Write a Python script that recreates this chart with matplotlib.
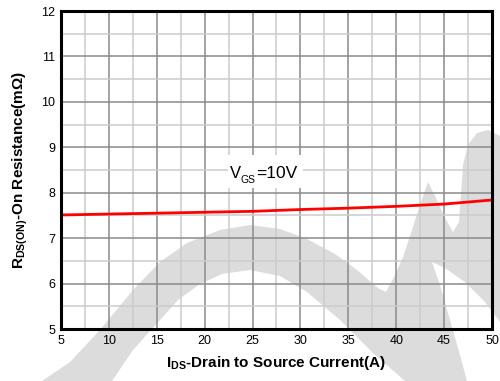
import matplotlib
matplotlib.use("Agg")
import matplotlib.pyplot as plt
import matplotlib.transforms as mtransforms
from matplotlib.patches import Polygon, Rectangle
from matplotlib.ticker import MultipleLocator

plt.rcParams['font.family'] = ['Liberation Sans', 'DejaVu Sans']
plt.rcParams['mathtext.fontset'] = 'custom'
plt.rcParams['mathtext.rm'] = 'Liberation Sans'
plt.rcParams['mathtext.bf'] = 'Liberation Sans:bold'
plt.rcParams['mathtext.it'] = 'Liberation Sans:italic'

# Drain current (A) and on-resistance (mOhm) at VGS = 10 V
ids = [5, 10, 15, 20, 25, 30, 35, 40, 45, 50]
rds_on = [7.51, 7.53, 7.55, 7.57, 7.59, 7.63, 7.66, 7.70, 7.75, 7.84]

x_ticks = [5, 10, 15, 20, 25, 30, 35, 40, 45, 50]
y_ticks = [5, 6, 7, 8, 9, 10, 11, 12]

W, H = 500, 381
fig = plt.figure(figsize=(W / 100, H / 100), dpi=100, facecolor='white')

# background logo, outlined in pixel units (origin top-left)
px = mtransforms.Affine2D().scale(1 / W, -1 / H).translate(0, 1) + fig.transFigure
logo_color = '#dcdcdc'
logo_outline = [
    (42, 381), (70, 362), (100, 330), (133, 290), (160, 262), (187, 243),
    (220, 230), (250, 225), (280, 229), (307, 239), (335, 254), (357, 270),
    (378, 288), (386, 292), (395, 275), (403, 257), (412, 230), (420, 205),
    (428, 182), (436, 198), (445, 218), (453, 232), (459, 222), (461, 195),
    (463, 165), (468, 145), (477, 133), (488, 130), (500, 136), (500, 322),
    (485, 302), (465, 282), (445, 268), (432, 262), (440, 285), (450, 320),
    (460, 355), (467, 381),
    (405, 381), (373, 353), (340, 320), (307, 292), (280, 276), (250, 270),
    (222, 274), (200, 284), (178, 300), (160, 320), (133, 350), (112, 381)]
fig.patches.append(Polygon(logo_outline, closed=True, transform=px,
                           facecolor=logo_color, edgecolor='none', zorder=0))

ax = fig.add_axes([61 / W, 1 - 329 / H, 431 / W, 318 / H])
ax.set_facecolor('none')
ax.set_zorder(1)

ax.set_xlim(5, 50)
ax.set_ylim(5, 12)
ax.set_xticks(x_ticks)
ax.set_yticks(y_ticks)
ax.xaxis.set_minor_locator(MultipleLocator(2.5))
ax.yaxis.set_minor_locator(MultipleLocator(0.5))

ax.grid(which='major', color='#8a8a8a', linewidth=1.1)
ax.grid(which='minor', color='#cccccc', linewidth=1.1)
ax.set_axisbelow(True)

ax.tick_params(which='both', length=0, labelsize=9, pad=4)
for s in ax.spines.values():
    s.set_linewidth(2.2)
    s.set_color('black')
    s.set_zorder(5)

ax.plot(ids, rds_on, color='#ff0000', linewidth=2.0, zorder=3)

# VGS label on a white patch
lx, ly = 26.3, 8.467
anchor = mtransforms.ScaledTranslation(lx, ly, ax.transData)
ax.add_patch(Rectangle((-0.375, -0.165), 0.75, 0.33, transform=fig.dpi_scale_trans + anchor,
                       facecolor='white', edgecolor='none', zorder=4))
for txt, size, dx, dy in [('V', 12, -25.6, -4.7), ('GS', 7.5, -17.4, -8.3),
                          ('=10V', 12.5, -6.2, -4.7)]:
    ax.annotate(txt, xy=(lx, ly), xytext=(dx, dy), textcoords='offset points',
                ha='left', va='baseline', fontsize=size, zorder=6)

ax.set_xlabel(r'$\mathbf{I_{DS}}$-Drain to Source Current(A)',
              fontsize=11, fontweight='bold', labelpad=5)
ax.set_ylabel(r'$\mathbf{R_{DS(ON)}}$-On Resistance(m$\mathbf{\Omega}$)',
              fontsize=11, fontweight='bold', labelpad=8)

fig.savefig('out.png', dpi=100, facecolor='white')
